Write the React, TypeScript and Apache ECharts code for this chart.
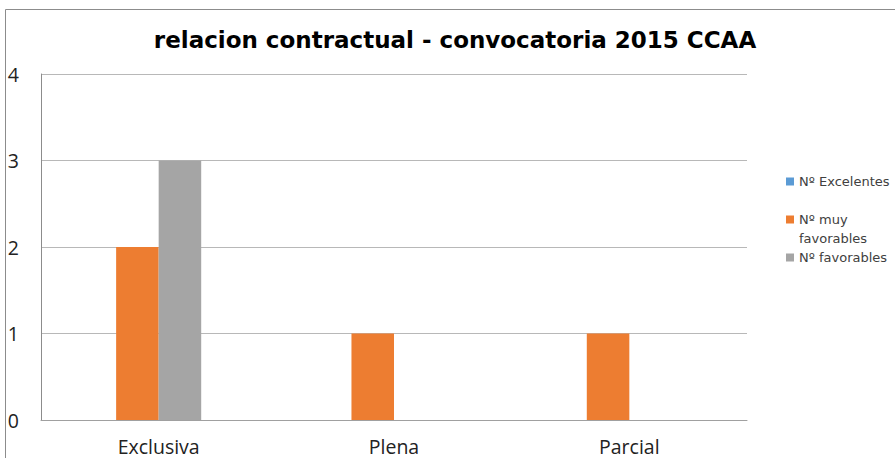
import React, { useEffect, useRef } from "react";
import * as echarts from "echarts";

const categories = ["Exclusiva", "Plena", "Parcial"];
const excelentes = [0, 0, 0];
const muyFavorables = [2, 1, 1];
const favorables = [3, 0, 0];
const extra = [0, 0, 0];
const seriesNames = ["Nº Excelentes", "Nº muy favorables", "Nº favorables"];
const colors = ["#5b9bd5", "#ed7d31", "#a5a5a5"];

export default function App() {
  const ref = useRef<HTMLDivElement>(null);
  useEffect(() => {
    if (!ref.current) return;
    const chart = echarts.init(ref.current, null, { renderer: "svg" });
    const font = "'Open Sans', 'DejaVu Sans', sans-serif";
    const wide = "'DejaVu Sans', sans-serif";
    chart.setOption({
      animation: false,
      textStyle: { fontFamily: font },
      title: {
        text: "relacion contractual - convocatoria 2015 CCAA",
        left: 450,
        textAlign: "center",
        top: 23,
        textStyle: { fontSize: 23, fontWeight: "bold", color: "#000", fontFamily: wide },
      },
      graphic: [
        {
          type: "rect",
          shape: { x: 5.5, y: 9.5, width: 1000, height: 1000 },
          style: { fill: "none", stroke: "#8c8c8c", lineWidth: 1 },
          silent: true,
        },
      ],
      legend: {
        orient: "vertical",
        left: 786,
        top: 172,
        padding: 0,
        itemWidth: 8,
        itemHeight: 8,
        itemGap: 0,
        icon: "rect",
        textStyle: { fontSize: 13, color: "#404040", fontFamily: wide, lineHeight: 19 },
        formatter: (name: string) => (name === "Nº muy favorables" ? "\nNº muy\nfavorables" : name),
        data: seriesNames,
      },
      grid: { left: 41, right: 148, top: 74, bottom: 38 },
      xAxis: {
        type: "category",
        data: categories,
        axisTick: { show: false },
        axisLine: { lineStyle: { color: "#a0a0a0" } },
        axisLabel: { fontSize: 19.5, color: "#222", margin: 16, fontFamily: font },
      },
      yAxis: {
        type: "value",
        min: 0,
        max: 4,
        interval: 1,
        axisLine: { show: true, lineStyle: { color: "#8c8c8c" } },
        splitLine: { lineStyle: { color: "#b8b8b8" } },
        axisLabel: { fontSize: 19.5, color: "#222", margin: 22, align: "right", fontFamily: font },
      },
      series: [
        { name: seriesNames[0], type: "bar", data: excelentes, itemStyle: { color: colors[0] }, barGap: "0%", barCategoryGap: "27.7%" },
        { name: seriesNames[1], type: "bar", data: muyFavorables, itemStyle: { color: colors[1] }, barGap: "0%", barCategoryGap: "27.7%" },
        { name: seriesNames[2], type: "bar", data: favorables, itemStyle: { color: colors[2] }, barGap: "0%", barCategoryGap: "27.7%" },
        { name: "extra", type: "bar", data: extra, itemStyle: { color: "#ffc000" }, barGap: "0%", barCategoryGap: "27.7%" },
      ],
    });
    return () => chart.dispose();
  }, []);
  return (
    <div
      ref={ref}
      style={{ position: "fixed", left: 0, top: 0, width: 895, height: 458, background: "#fff" }}
    />
  );
}
